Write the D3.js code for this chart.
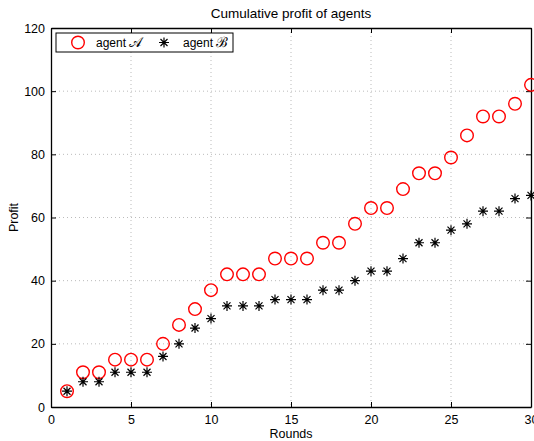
<!DOCTYPE html>
<meta charset="utf-8">
<script src="https://d3js.org/d3.v7.min.js"></script>
<style>
  body { margin: 0; background: #fff; }
  text { font-family: "Liberation Sans", Arial, sans-serif; }
</style>
<div id="chart"></div>
<script>
    // rounds and the cumulative profit of each agent
    const rounds = d3.range(1, 31);
    const profitA = [5, 11, 11, 15, 15, 15, 20, 26, 31, 37, 42, 42, 42, 47, 47, 47, 52, 52, 58, 63, 63, 69, 74, 74, 79, 86, 92, 92, 96, 102];
    const profitB = [5, 8, 8, 11, 11, 11, 16, 20, 25, 28, 32, 32, 32, 34, 34, 34, 37, 37, 40, 43, 43, 47, 52, 52, 56, 58, 62, 62, 66, 67];
    const xTicks = [0, 5, 10, 15, 20, 25, 30];
    const yTicks = [0, 20, 40, 60, 80, 100, 120];

    const W = 534, H = 441;
    const margin = { top: 28, right: 3, bottom: 34, left: 51 },
        width = W - margin.left - margin.right,
        height = H - margin.top - margin.bottom;

    const svg = d3.select("#chart")
        .append("svg")
        .attr("width", W)
        .attr("height", H);

    const g = svg.append("g")
        .attr("transform", `translate(${margin.left}, ${margin.top})`);

    const x = d3.scaleLinear().domain([0, 30]).range([0, width]);
    const y = d3.scaleLinear().domain([0, 120]).range([height, 0]);

    // dotted grid
    g.append("g").selectAll("line.gx")
        .data(xTicks.slice(1, -1))
        .join("line")
        .attr("x1", d => x(d)).attr("x2", d => x(d))
        .attr("y1", 0).attr("y2", height)
        .attr("stroke", "#bbb").attr("stroke-dasharray", "1,3");
    g.append("g").selectAll("line.gy")
        .data(yTicks.slice(1, -1))
        .join("line")
        .attr("y1", d => y(d)).attr("y2", d => y(d))
        .attr("x1", 0).attr("x2", width)
        .attr("stroke", "#bbb").attr("stroke-dasharray", "1,3");

    // axes, ticks pointing inward like matlab
    g.append("g")
        .attr("transform", `translate(0, ${height})`)
        .call(d3.axisBottom(x).tickValues(xTicks).tickSizeInner(-5).tickSizeOuter(0).tickPadding(8));
    g.append("g")
        .call(d3.axisLeft(y).tickValues(yTicks).tickSizeInner(-5).tickSizeOuter(0).tickPadding(6));
    g.append("g")
        .call(d3.axisTop(x).tickValues(xTicks).tickSizeInner(-5).tickSizeOuter(0).tickFormat(""));
    g.append("g")
        .attr("transform", `translate(${width}, 0)`)
        .call(d3.axisRight(y).tickValues(yTicks).tickSizeInner(-5).tickSizeOuter(0).tickFormat(""));
    g.selectAll(".domain").attr("stroke", "#000").attr("stroke-width", 1.3);
    g.selectAll(".tick text").attr("font-size", 12.5).attr("fill", "#000")
        .style("font-family", "'Liberation Sans', Arial, sans-serif");

    // agent A: red circles
    g.append("g").selectAll("circle")
        .data(rounds)
        .join("circle")
        .attr("cx", (d) => x(d))
        .attr("cy", (d, i) => y(profitA[i]))
        .attr("r", 6.3)
        .attr("fill", "none")
        .attr("stroke", "#f00")
        .attr("stroke-width", 1.4);

    // agent B: 8-armed asterisks
    const star = "M-5,0H5M0,-5V5M-3.5,-3.5L3.5,3.5M-3.5,3.5L3.5,-3.5";
    g.append("g").selectAll("path")
        .data(rounds)
        .join("path")
        .attr("transform", (d, i) => `translate(${x(d)}, ${y(profitB[i])})`)
        .attr("d", star)
        .attr("stroke", "#000")
        .attr("stroke-width", 1.2)
        .attr("fill", "none");

    // legend
    const leg = g.append("g").attr("transform", "translate(5, 5)");
    leg.append("rect")
        .attr("width", 177).attr("height", 19)
        .attr("fill", "#fff").attr("stroke", "#000").attr("stroke-width", 1);
    leg.append("circle").attr("cx", 22).attr("cy", 9.5).attr("r", 6.3)
        .attr("fill", "none").attr("stroke", "#f00").attr("stroke-width", 1.4);
    leg.append("text").attr("x", 40).attr("y", 14).attr("font-size", 12)
        .text("agent ").append("tspan").attr("font-size", 14).text("𝒜");
    leg.append("path").attr("transform", "translate(108, 9.5)").attr("d", star)
        .attr("stroke", "#000").attr("stroke-width", 1.2);
    leg.append("text").attr("x", 127).attr("y", 14).attr("font-size", 12)
        .text("agent ").append("tspan").attr("font-size", 14).text("ℬ");

    // labels
    svg.append("text")
        .attr("x", margin.left + width / 2).attr("y", 18)
        .attr("text-anchor", "middle").attr("font-size", 13.5)
        .text("Cumulative profit of agents");
    svg.append("text")
        .attr("x", margin.left + width / 2).attr("y", 438)
        .attr("text-anchor", "middle").attr("font-size", 12.5)
        .text("Rounds");
    svg.append("text")
        .attr("transform", `translate(18, ${margin.top + height / 2}) rotate(-90)`)
        .attr("text-anchor", "middle").attr("font-size", 12.5)
        .text("Profit");
</script>
